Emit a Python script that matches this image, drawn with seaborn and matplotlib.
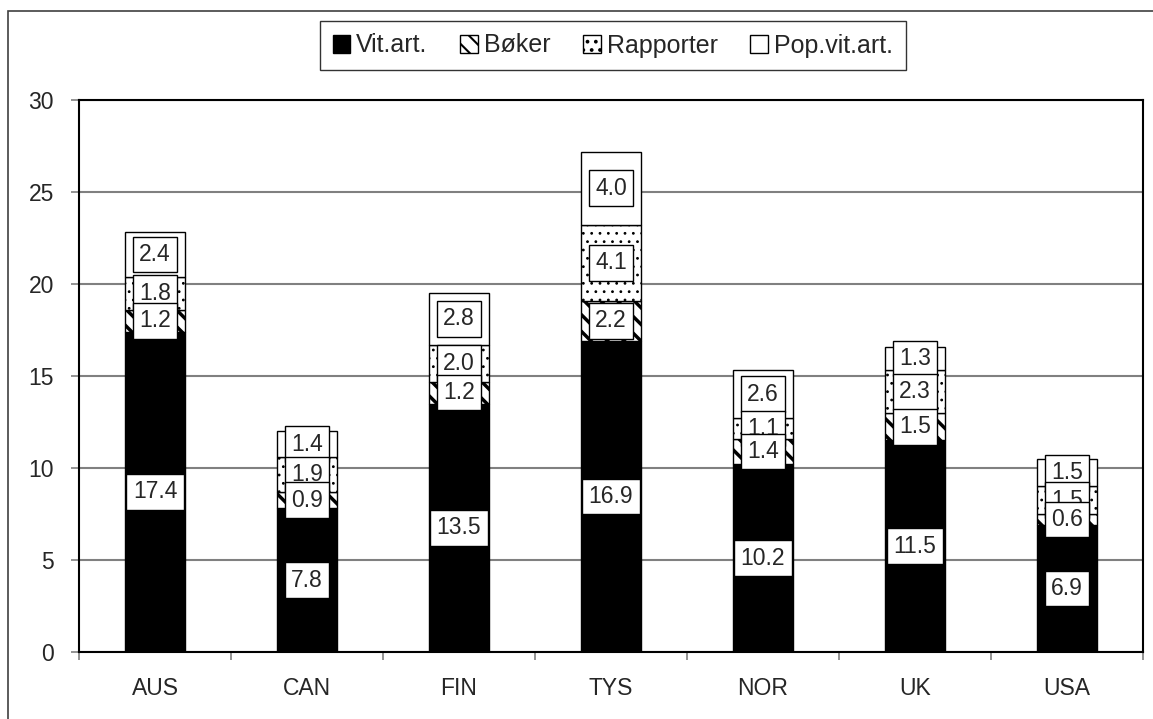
import matplotlib
matplotlib.use("Agg")
import matplotlib.pyplot as plt
import seaborn as sns
import numpy as np
from matplotlib.patches import Patch, Rectangle

# Publications per researcher by country, split by type
countries = ["AUS", "CAN", "FIN", "TYS", "NOR", "UK", "USA"]
vit_art = [17.4, 7.8, 13.5, 16.9, 10.2, 11.5, 6.9]
boker = [1.2, 0.9, 1.2, 2.2, 1.4, 1.5, 0.6]
rapporter = [1.8, 1.9, 2.0, 4.1, 1.1, 2.3, 1.5]
pop_vit_art = [2.4, 1.4, 2.8, 4.0, 2.6, 1.3, 1.5]

series_names = ["Vit.art.", "Bøker", "Rapporter", "Pop.vit.art."]
series_values = [vit_art, boker, rapporter, pop_vit_art]
series_style = [
    dict(color="black", hatch=None, hlw=1.0),
    dict(color="white", hatch="\\\\", hlw=2.5),
    dict(color="white", hatch="..", hlw=0.8),
    dict(color="white", hatch=None, hlw=1.0),
]
yticks = [0, 5, 10, 15, 20, 25, 30]

sns.set_style("white")
plt.rcParams["font.family"] = ["Liberation Sans", "DejaVu Sans"]
plt.rcParams["hatch.color"] = "black"

W, H = 1153, 719
fig = plt.figure(figsize=(W / 100, H / 100), dpi=100)
ax = fig.add_axes([79 / W, 1 - 652 / H, (1143 - 79) / W, (652 - 100) / H])

FS = 16.5


def apply_hatch_width(patches, lw):
    for p in patches:
        if hasattr(p, "set_hatch_linewidth"):
            p.set_hatch_linewidth(lw)


bottom = np.zeros(len(countries))
for name, vals, st in zip(series_names, series_values, series_style):
    plt.rcParams["hatch.linewidth"] = st["hlw"]
    n_before = len(ax.patches)
    sns.barplot(
        x=countries, y=vals, bottom=bottom, ax=ax, width=0.4,
        color=st["color"], edgecolor="black", linewidth=1.0,
        hatch=st["hatch"], errorbar=None, saturation=1, zorder=3,
    )
    apply_hatch_width(ax.patches[n_before:], st["hlw"])
    bottom = bottom + np.array(vals)

# Value labels in white boxes, centred on each segment
cum = np.cumsum(np.array(series_values), axis=0)
starts = cum - np.array(series_values)
for k in range(len(series_names) - 1, -1, -1):
    for i, v in enumerate(series_values[k]):
        yc = starts[k][i] + v / 2
        ax.text(i, yc, f"{v:.1f}", ha="center", va="center", fontsize=FS,
                zorder=10 + (len(series_names) - k),
                bbox=dict(boxstyle="square,pad=0.28", facecolor="white",
                          edgecolor="black", linewidth=1.0))

ax.set_ylim(0, 30)
ax.set_xlim(-0.5, len(countries) - 0.5)
ax.set_yticks(yticks)
ax.set_yticklabels([str(t) for t in yticks], fontsize=FS)
ax.yaxis.grid(True, color="#808080", linewidth=1.5, zorder=0)
ax.set_axisbelow(True)
ax.tick_params(axis="y", direction="out", length=6, width=1.2, color="#808080",
               pad=12, left=True, labelsize=FS)
ax.set_xticks(range(len(countries)))
ax.set_xticklabels(countries, fontsize=FS)
ax.tick_params(axis="x", which="major", length=0, pad=18, labelsize=FS)
ax.set_xticks(np.arange(-0.5, len(countries), 1.0), minor=True)
ax.tick_params(axis="x", which="minor", direction="out", length=6, width=1.2,
               color="#808080", bottom=True)
ax.set_xlabel("")
ax.set_ylabel("")
for s in ax.spines.values():
    s.set_visible(True)
    s.set_color("black")
    s.set_linewidth(1.5)

plt.rcParams["hatch.linewidth"] = 1.5
handles = []
for st in series_style:
    p = Patch(facecolor=st["color"], edgecolor="black", hatch=st["hatch"], linewidth=1.0)
    handles.append(p)
leg = fig.legend(handles, series_names, loc="upper left",
                 bbox_to_anchor=(320 / W, 1 - 21 / H), ncol=4, fontsize=18,
                 frameon=True, fancybox=False, edgecolor="black",
                 handlelength=0.7, handleheight=0.7, handletextpad=0.25,
                 columnspacing=1.3, borderpad=0.5, borderaxespad=0)
leg.get_frame().set_linewidth(1.0)

# Outer chart border
fig.patches.append(Rectangle((8 / W, -0.01), 1.02, 1 - 11 / H + 0.01,
                             transform=fig.transFigure, fill=False,
                             edgecolor="#404040", linewidth=1.2))

fig.savefig("out.png", dpi=100)
